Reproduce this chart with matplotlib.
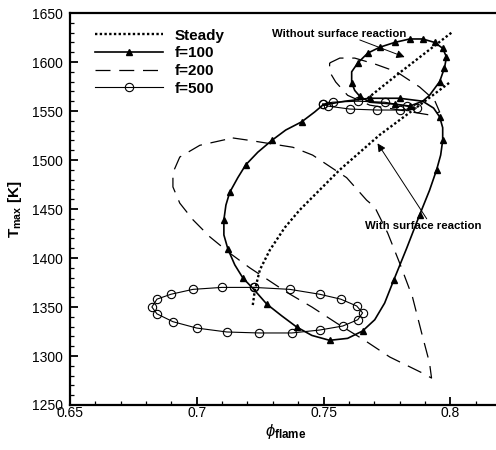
import matplotlib
matplotlib.use('Agg')
import matplotlib.pyplot as plt
from matplotlib.ticker import MultipleLocator

plt.rcParams['font.family'] = ['Liberation Sans', 'DejaVu Sans']
plt.rcParams['mathtext.fontset'] = 'custom'
plt.rcParams['mathtext.rm'] = 'Liberation Sans'
plt.rcParams['mathtext.bf'] = 'Liberation Sans:bold'
plt.rcParams['mathtext.it'] = 'Liberation Sans:italic'

# steady branches (with / without surface reaction)
steady_lo_phi = [0.7221, 0.7229, 0.7249, 0.7288, 0.7347, 0.7406, 0.7564, 0.7721, 0.7879, 0.7997]
steady_lo_T = [1352, 1367, 1388, 1408, 1431, 1449, 1490, 1525.5, 1556, 1579]
steady_hi_phi = [0.7674, 0.7800, 0.7920, 0.8005]
steady_hi_T = [1563, 1589, 1613, 1630]

# f=100, with surface reaction (big loop)
f100a_phi = [0.7497, 0.7584, 0.7682, 0.7800, 0.7891, 0.7934, 0.7958, 0.7970, 0.7970, 0.7962,
             0.7946, 0.7918, 0.7879, 0.7828, 0.7777, 0.7741, 0.7702, 0.7654, 0.7595, 0.7524,
             0.7454, 0.7394, 0.7335, 0.7276, 0.7225, 0.7182, 0.7150, 0.7123, 0.7107, 0.7107,
             0.7115, 0.7130, 0.7162, 0.7193, 0.7241, 0.7296, 0.7351, 0.7414, 0.7465, 0.7497]
f100a_T = [1556, 1560, 1563, 1563, 1560, 1553, 1544, 1533, 1520, 1505,
           1490, 1469, 1444, 1410, 1377.5, 1354, 1337, 1325.5, 1318, 1316,
           1321, 1329.6, 1341, 1353, 1368, 1379.6, 1393, 1409, 1423.5, 1439,
           1454, 1467, 1482, 1495, 1508, 1520, 1530.6, 1539, 1549, 1556]
f100a_marks = [2, 3, 6, 8, 10, 12, 14, 17, 19, 21, 23, 25, 27, 29, 31, 33, 35, 37]

# f=100, without surface reaction (small loop)
f100b_phi = [0.7891, 0.7918, 0.7958, 0.7977, 0.7985, 0.7970, 0.7938, 0.7891, 0.7840, 0.7781,
             0.7721, 0.7674, 0.7635, 0.7611, 0.7611, 0.7623, 0.7643, 0.7682, 0.7781, 0.7840, 0.7891]
f100b_T = [1560, 1566, 1580, 1594, 1605, 1614, 1620, 1623.5, 1623.5, 1620,
           1615, 1609, 1599, 1590, 1579, 1571, 1565, 1559, 1557, 1555, 1560]
f100b_marks = [2, 3, 4, 5, 6, 7, 8, 9, 10, 11, 12, 14, 16, 18, 19]

# f=200
f200a_phi = [0.7142, 0.7209, 0.7379, 0.7457, 0.7591, 0.7670, 0.7702, 0.7753, 0.7800, 0.7851,
             0.7887, 0.7918, 0.7926, 0.7887, 0.7761, 0.7662, 0.7552, 0.7454, 0.7355, 0.7209,
             0.7130, 0.7052, 0.6985, 0.6933, 0.6906, 0.6906, 0.6933, 0.7012, 0.7142]
f200a_T = [1522.5, 1520, 1513, 1505, 1482, 1459, 1452, 1425.5, 1395, 1360,
           1323.5, 1293, 1277.5, 1283, 1299, 1316, 1333.5, 1350, 1365, 1390,
           1405, 1421.5, 1439, 1456, 1472.5, 1487, 1503, 1515, 1522.5]
f200b_phi = [0.7524, 0.7564, 0.7623, 0.7702, 0.7788, 0.7879, 0.7938, 0.7958, 0.7918, 0.7800,
             0.7682, 0.7595, 0.7548, 0.7524, 0.7524]
f200b_T = [1599, 1604, 1604, 1598, 1590, 1574.5, 1561, 1549, 1546, 1551,
           1556, 1566, 1579.6, 1590, 1599]

# f=500
f500a_phi = [0.7225, 0.7099, 0.6985, 0.6898, 0.6843, 0.6823, 0.6843, 0.6906, 0.7000, 0.7119,
             0.7245, 0.7375, 0.7485, 0.7576, 0.7635, 0.7654, 0.7631, 0.7568, 0.7485, 0.7367, 0.7225]
f500a_T = [1370, 1370, 1368, 1363, 1358, 1350, 1343, 1335, 1328.5, 1324.5,
           1323.5, 1323.5, 1326.5, 1330.6, 1337, 1344, 1351, 1358, 1363, 1368, 1370]
f500b_phi = [0.7497, 0.7536, 0.7635, 0.7741, 0.7828, 0.7867, 0.7800, 0.7710, 0.7603, 0.7517, 0.7497]
f500b_T = [1557, 1559, 1560, 1559, 1555, 1553, 1551, 1551, 1552, 1555, 1557]

fig = plt.figure(figsize=(4.96, 4.5), dpi=100)
ax = fig.add_axes([0.1411, 0.1, 0.869, 0.8711])

ax.plot(steady_lo_phi, steady_lo_T, color='black', lw=1.7, ls=(0, (1, 1)), label='Steady')
ax.plot(steady_hi_phi, steady_hi_T, color='black', lw=1.7, ls=(0, (1, 1)))

ax.plot(f100a_phi, f100a_T, color='black', lw=1.2, marker='^', ms=4.5,
        markevery=f100a_marks, label='f=100')
ax.plot(f100b_phi, f100b_T, color='black', lw=1.2, marker='^', ms=4.5,
        markevery=f100b_marks)

ax.plot(f200a_phi, f200a_T, color='black', lw=0.9, dashes=(12, 7), label='f=200')
ax.plot(f200b_phi, f200b_T, color='black', lw=0.9, dashes=(12, 7))

ax.plot(f500a_phi, f500a_T, color='black', lw=0.8, marker='o', ms=6, mfc='none',
        mew=0.8, label='f=500')
ax.plot(f500b_phi, f500b_T, color='black', lw=0.8, marker='o', ms=6, mfc='none', mew=0.8)

ax.text(0.7296, 1628.6, 'Without surface reaction', fontsize=8.2, fontweight='bold',
        ha='left', va='center')
ax.annotate('', xy=(0.7820, 1605), xytext=(0.7643, 1622.5),
            arrowprops=dict(arrowstyle='-|>', color='black', lw=0.7,
                            mutation_scale=12, shrinkA=0, shrinkB=0))
ax.annotate('', xy=(0.7713, 1517), xytext=(0.7907, 1440),
            arrowprops=dict(arrowstyle='-|>', color='black', lw=0.7,
                            mutation_scale=12, shrinkA=0, shrinkB=0))
ax.text(0.7662, 1432.7, 'With surface reaction', fontsize=8.2, fontweight='bold',
        ha='left', va='center')

ax.set_xlim(0.65, 0.82)
ax.set_ylim(1250, 1650)
ax.set_xticks([0.65, 0.7, 0.75, 0.8])
ax.set_xticklabels(['0.65', '0.7', '0.75', '0.8'])
ax.xaxis.set_minor_locator(MultipleLocator(0.01))
ax.yaxis.set_minor_locator(MultipleLocator(10))
ax.tick_params(which='both', direction='in', labelsize=10)
ax.tick_params(which='major', length=6, width=1.3)
ax.tick_params(which='minor', length=3, width=0.9)
ax.tick_params(axis='x', pad=1)
ax.tick_params(axis='y', pad=5)
for s in ax.spines.values():
    s.set_linewidth(1.6)

ax.set_xlabel(r'$\phi_{\mathbf{flame}}$', fontsize=12, labelpad=1)
ax.set_ylabel(r'T$_{\mathbf{max}}$ [K]', fontsize=11, fontweight='bold', labelpad=6)

leg = ax.legend(loc='upper left', bbox_to_anchor=(0.058, 0.96), frameon=False,
                borderpad=0, borderaxespad=0, handlelength=4.45, handletextpad=0.78,
                labelspacing=0.24, prop={'weight': 'bold', 'size': 11})

fig.savefig('out.png', dpi=100)
